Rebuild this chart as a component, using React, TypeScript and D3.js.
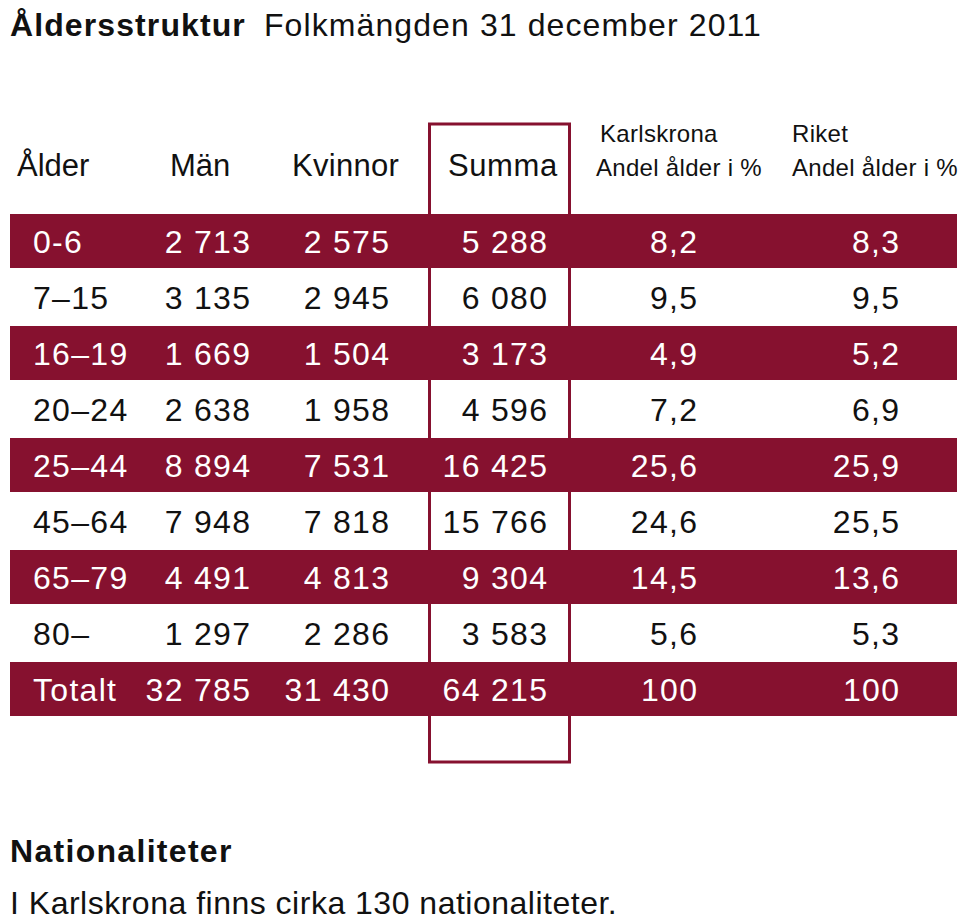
import React from "react";
import * as d3 from "d3";

const ageGroups = ["0-6", "7–15", "16–19", "20–24", "25–44", "45–64", "65–79", "80–", "Totalt"];
const men = [2713, 3135, 1669, 2638, 8894, 7948, 4491, 1297, 32785];
const women = [2575, 2945, 1504, 1958, 7531, 7818, 4813, 2286, 31430];
const totals = [5288, 6080, 3173, 4596, 16425, 15766, 9304, 3583, 64215];
const karlskronaShare = [8.2, 9.5, 4.9, 7.2, 25.6, 24.6, 14.5, 5.6, 100];
const riketShare = [8.3, 9.5, 5.2, 6.9, 25.9, 25.5, 13.6, 5.3, 100];

const title = "Åldersstruktur";
const subtitle = "Folkmängden 31 december 2011";
const footHeading = "Nationaliteter";
const footText = "I Karlskrona finns cirka 130 nationaliteter.";

const RED = "#86112f";
const FONT = "'Liberation Sans', Arial, Helvetica, sans-serif";

const locale = d3.formatLocale({
  decimal: ",",
  thousands: " ",
  grouping: [3],
  currency: ["", " kr"],
});
const fmtInt = locale.format(",d");
const fmtPct = (v: number) => (v === 100 ? "100" : locale.format(".1f")(v));

export default function App() {
  const W = 960;
  const H = 921;
  const y = d3.scaleBand<string>().domain(ageGroups).range([213, 717]).paddingInner(0);
  const bw = y.bandwidth();
  const LS = 1.3;

  const cols = [
    { vals: men.map(fmtInt), x: 250 },
    { vals: women.map(fmtInt), x: 389 },
    { vals: totals.map(fmtInt), x: 547 },
    { vals: karlskronaShare.map(fmtPct), x: 697 },
    { vals: riketShare.map(fmtPct), x: 899 },
  ];

  return (
    <svg
      width={W}
      height={H}
      style={{ position: "absolute", left: 0, top: 0, background: "#fff" }}
      fontFamily={FONT}
    >
      <rect x={0} y={0} width={W} height={H} fill="#fff" />
      <text x={10} y={36} fontSize={32} fill="#111">
        <tspan fontWeight="bold" letterSpacing={1.1}>{title}</tspan>
        <tspan dx={18} letterSpacing={1.1}>{subtitle}</tspan>
      </text>

      {/* headers */}
      <g fontSize={31} fill="#111">
        <text x={17} y={176}>Ålder</text>
        <text x={170} y={176}>Män</text>
        <text x={292} y={176} letterSpacing={0.3}>Kvinnor</text>
        <text x={448} y={176} letterSpacing={0.6}>Summa</text>
      </g>
      <g fontSize={24} fill="#111" letterSpacing={0.3}>
        <text x={600} y={142}>Karlskrona</text>
        <text x={596} y={176}>Andel ålder i %</text>
        <text x={792} y={142}>Riket</text>
        <text x={792} y={176}>Andel ålder i %</text>
      </g>

      {/* bands */}
      {ageGroups.map((a, i) =>
        i % 2 === 0 ? (
          <rect key={a} x={10} y={(y(a) as number) + 1} width={947} height={bw - 2} fill={RED} />
        ) : null
      )}

      {/* Summa box */}
      <rect x={429.5} y={124} width={140} height={638} fill="none" stroke={RED} strokeWidth={3} />

      {/* rows */}
      {ageGroups.map((a, i) => {
        const yy = (y(a) as number) + bw / 2 + 11.5;
        const fill = i % 2 === 0 ? "#fff" : "#111";
        return (
          <g key={a} fontSize={32} fill={fill} letterSpacing={LS}>
            <text x={33} y={yy}>{a}</text>
            {cols.map((c, j) => (
              <text key={j} x={c.x + LS} y={yy} textAnchor="end">
                {c.vals[i]}
              </text>
            ))}
          </g>
        );
      })}

      <text x={10} y={862} fontSize={32} fontWeight="bold" fill="#111" letterSpacing={1.3}>{footHeading}</text>
      <text x={10} y={914} fontSize={32} fill="#111" letterSpacing={0.5}>{footText}</text>
    </svg>
  );
}
